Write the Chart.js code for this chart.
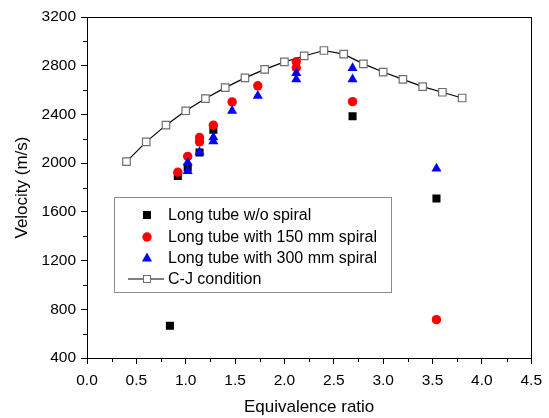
<!DOCTYPE html>
<html>
<head>
<meta charset="utf-8">
<script src="https://cdn.jsdelivr.net/npm/chart.js@4.4.1/dist/chart.umd.min.js"></script>
<style>
  html, body { margin: 0; padding: 0; background: #fff; }
  #velocityChart { display: block; }
</style>
</head>
<body>
<canvas id="velocityChart" width="549" height="418"></canvas>
<script>
// values
const noSpiralX = [0.84, 0.92, 1.02, 1.14, 1.28, 2.69, 3.54];
const noSpiralY = [665, 1895, 1965, 2088, 2275, 2385, 1710];

const spiral150X = [0.92, 1.02, 1.14, 1.14, 1.28, 1.47, 1.73, 2.12, 2.12, 2.69, 3.54];
const spiral150Y = [1925, 2055, 2210, 2175, 2312, 2503, 2635, 2832, 2783, 2505, 715];

const spiral300X = [1.02, 1.02, 1.14, 1.28, 1.28, 1.47, 1.73, 2.12, 2.12, 2.69, 2.69, 3.54];
const spiral300Y = [2005, 1935, 2092, 2212, 2178, 2430, 2552, 2740, 2688, 2780, 2688, 1955];

const cjX = [0.4, 0.6, 0.8, 1.0, 1.2, 1.4, 1.6, 1.8, 2.0, 2.2, 2.4, 2.6, 2.8, 3.0, 3.2, 3.4, 3.6, 3.8];
const cjY = [2012, 2175, 2312, 2430, 2530, 2620, 2700, 2770, 2832, 2880, 2925, 2895, 2815, 2748, 2688, 2628, 2582, 2535];

const seriesLabels = [
  'Long tube w/o spiral',
  'Long tube with 150 mm spiral',
  'Long tube with 300 mm spiral',
  'C-J condition'
];

const xRange = [0, 4.5];
const xStep = 0.5;
const yRange = [400, 3200];
const yStep = 400;

const FONT = "'Liberation Sans', Arial, sans-serif";

function toPoints(xs, ys) {
  return xs.map((x, i) => ({ x: x, y: ys[i] }));
}

// minor ticks, top/right frame and the boxed legend
const framePlugin = {
  id: 'framePlugin',
  afterDraw(chart) {
    const ctx = chart.ctx;
    const area = chart.chartArea;
    const xs = chart.scales.x;
    const ys = chart.scales.y;

    ctx.save();
    ctx.strokeStyle = '#000';
    ctx.lineWidth = 1;

    // top and right border
    ctx.beginPath();
    ctx.moveTo(area.left, Math.round(area.top) + 0.5);
    ctx.lineTo(area.right, Math.round(area.top) + 0.5);
    ctx.moveTo(Math.round(area.right) + 0.5, area.top);
    ctx.lineTo(Math.round(area.right) + 0.5, area.bottom);
    ctx.stroke();

    // minor ticks halfway between major ones
    ctx.beginPath();
    for (let i = 0; i < xs.ticks.length - 1; i++) {
      const v = (xs.ticks[i].value + xs.ticks[i + 1].value) / 2;
      const px = Math.round(xs.getPixelForValue(v)) + 0.5;
      ctx.moveTo(px, area.bottom);
      ctx.lineTo(px, area.bottom + 4);
    }
    for (let i = 0; i < ys.ticks.length - 1; i++) {
      const v = (ys.ticks[i].value + ys.ticks[i + 1].value) / 2;
      const py = Math.round(ys.getPixelForValue(v)) + 0.5;
      ctx.moveTo(area.left, py);
      ctx.lineTo(area.left - 4, py);
    }
    ctx.stroke();

    // legend box
    const bx = area.left + 27;
    const by = area.top + 180;
    const bw = 277;
    const bh = 95;
    ctx.strokeStyle = '#8c8c8c';
    ctx.strokeRect(bx + 0.5, by + 0.5, bw, bh);

    const rowY = [by + 18, by + 40, by + 61, by + 82];
    const markX = bx + 33;
    const textX = bx + 54;

    ctx.font = '16px ' + FONT;
    ctx.textBaseline = 'middle';
    ctx.textAlign = 'left';

    // square
    ctx.fillStyle = '#000';
    ctx.fillRect(markX - 4, rowY[0] - 4, 8, 8);
    // circle
    ctx.fillStyle = '#ff0000';
    ctx.beginPath();
    ctx.arc(markX, rowY[1], 4.7, 0, Math.PI * 2);
    ctx.fill();
    // triangle
    ctx.fillStyle = '#0000ff';
    ctx.beginPath();
    ctx.moveTo(markX, rowY[2] - 5.5);
    ctx.lineTo(markX + 5, rowY[2] + 3.5);
    ctx.lineTo(markX - 5, rowY[2] + 3.5);
    ctx.closePath();
    ctx.fill();
    // line with open square
    ctx.strokeStyle = '#000';
    ctx.lineWidth = 1.2;
    ctx.beginPath();
    ctx.moveTo(markX - 19, rowY[3]);
    ctx.lineTo(markX + 17, rowY[3]);
    ctx.stroke();
    ctx.fillStyle = '#fff';
    ctx.strokeStyle = '#6e6e6e';
    ctx.lineWidth = 1;
    ctx.fillRect(markX - 3.5, rowY[3] - 3.5, 7, 7);
    ctx.strokeRect(markX - 3.5, rowY[3] - 3.5, 7, 7);

    ctx.fillStyle = '#000';
    seriesLabels.forEach((label, i) => {
      ctx.fillText(label, textX, rowY[i] + 1);
    });

    ctx.restore();
  }
};

const axisGrid = {
  display: true,
  drawOnChartArea: false,
  drawTicks: true,
  tickLength: 6,
  color: '#000',
  tickColor: '#000',
  lineWidth: 1
};

new Chart(document.getElementById('velocityChart').getContext('2d'), {
  type: 'scatter',
  data: {
    datasets: [
      {
        label: seriesLabels[0],
        data: toPoints(noSpiralX, noSpiralY),
        pointStyle: 'rect',
        pointRadius: 5.7,
        backgroundColor: '#000',
        borderColor: '#000',
        borderWidth: 0,
        order: 3
      },
      {
        label: seriesLabels[1],
        data: toPoints(spiral150X, spiral150Y),
        pointStyle: 'circle',
        pointRadius: 4.7,
        backgroundColor: '#ff0000',
        borderColor: '#ff0000',
        borderWidth: 0,
        order: 2
      },
      {
        label: seriesLabels[2],
        data: toPoints(spiral300X, spiral300Y),
        pointStyle: 'triangle',
        pointRadius: 5.8,
        backgroundColor: '#0000ff',
        borderColor: '#0000ff',
        borderWidth: 0,
        order: 1
      },
      {
        label: seriesLabels[3],
        data: toPoints(cjX, cjY),
        showLine: true,
        borderColor: '#000',
        borderWidth: 1.2,
        pointStyle: 'rect',
        pointRadius: 5.3,
        pointBackgroundColor: '#fff',
        pointBorderColor: '#6e6e6e',
        pointBorderWidth: 1.2,
        tension: 0,
        order: 4
      }
    ]
  },
  options: {
    responsive: false,
    animation: false,
    devicePixelRatio: 1,
    layout: { padding: { top: 17, right: 17, left: 0, bottom: 0 } },
    plugins: {
      legend: { display: false },
      tooltip: { enabled: false }
    },
    scales: {
      x: {
        type: 'linear',
        min: xRange[0],
        max: xRange[1],
        afterFit: (scale) => { scale.height = 60; },
        grid: axisGrid,
        border: { display: true, color: '#000', width: 1 },
        ticks: {
          stepSize: xStep,
          padding: 7,
          color: '#000',
          font: { family: FONT, size: 15.5 },
          callback: (v) => Number(v).toFixed(1)
        },
        title: {
          display: true,
          text: 'Equivalence ratio',
          color: '#000',
          font: { family: FONT, size: 17 },
          padding: { top: 0, bottom: 0 }
        }
      },
      y: {
        type: 'linear',
        min: yRange[0],
        max: yRange[1],
        afterFit: (scale) => { scale.width = 87; },
        grid: axisGrid,
        border: { display: true, color: '#000', width: 1 },
        ticks: {
          stepSize: yStep,
          padding: 5,
          color: '#000',
          font: { family: FONT, size: 15.5 },
          callback: (v) => String(v)
        },
        title: {
          display: true,
          text: 'Velocity (m/s)',
          color: '#000',
          font: { family: FONT, size: 17 },
          padding: { top: 12, bottom: 0 }
        }
      }
    }
  },
  plugins: [framePlugin]
});
</script>
</body>
</html>
